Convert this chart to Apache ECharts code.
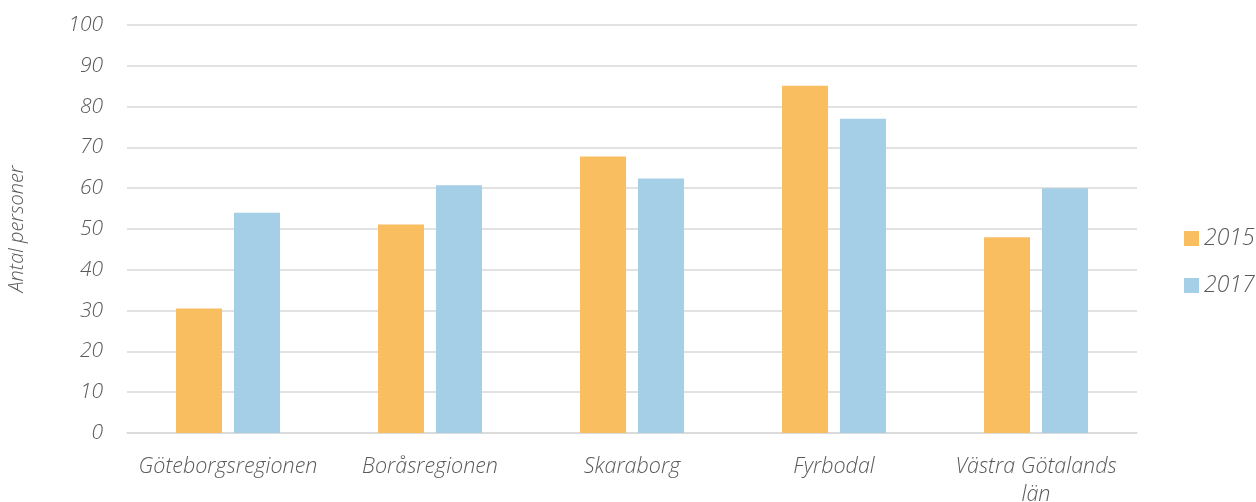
<!DOCTYPE html>
<html>
<head>
<meta charset="utf-8">
<script src="https://cdn.jsdelivr.net/npm/echarts@6/dist/echarts.min.js"></script>
<style>
  html, body { margin: 0; padding: 0; background: #fff; }
  #chart { width: 1256px; height: 502px; }
</style>
</head>
<body>
<div id="chart"></div>
<script>
// Regions along the x axis
const regions = ['Göteborgsregionen', 'Boråsregionen', 'Skaraborg', 'Fyrbodal', 'Västra Götalands\nlän'];
// Number of persons per region
const values2015 = [30.5, 51.1, 67.8, 85.1, 48.0];
const values2017 = [54.0, 60.7, 62.4, 77.0, 60.0];
const yTicks = [0, 10, 20, 30, 40, 50, 60, 70, 80, 90, 100];

const FONT = 'Open Sans';
const TEXT = '#595959';
const LABEL = { fontFamily: FONT, fontStyle: 'italic', fontWeight: 300, color: TEXT };

const chart = echarts.init(document.getElementById('chart'), null, { renderer: 'canvas' });
chart.setOption({
  animation: false,
  backgroundColor: '#ffffff',
  grid: { left: 127, right: 119, top: 25, bottom: 69, containLabel: false, outerBoundsMode: 'none' },
  legend: {
    orient: 'vertical',
    left: 1179,
    top: 222,
    itemWidth: 15,
    itemHeight: 15,
    itemGap: 24,
    icon: 'rect',
    textStyle: Object.assign({ fontSize: 23, padding: [0, 0, 0, 0] }, LABEL)
  },
  xAxis: {
    type: 'category',
    data: regions,
    axisLine: { lineStyle: { color: '#d9d9d9', width: 1.5 } },
    axisTick: { show: false },
    axisLabel: Object.assign({ fontSize: 21.5, margin: 20, lineHeight: 28, interval: 0 }, LABEL)
  },
  yAxis: {
    type: 'value',
    min: yTicks[0],
    max: yTicks[yTicks.length - 1],
    interval: 10,
    name: 'Antal personer',
    nameLocation: 'middle',
    nameGap: 100,
    nameTextStyle: Object.assign({ fontSize: 20 }, LABEL),
    axisLine: { show: false },
    axisTick: { show: false },
    splitLine: { lineStyle: { color: '#d9d9d9', width: 1.5 } },
    axisLabel: Object.assign({ fontSize: 21, margin: 24 }, LABEL)
  },
  series: [
    {
      name: '2015', type: 'bar', data: values2015,
      barWidth: 46, barGap: '26%',
      itemStyle: { color: '#F9BE5F' }
    },
    {
      name: '2017', type: 'bar', data: values2017,
      barWidth: 46,
      itemStyle: { color: '#A5CFE6' }
    }
  ]
});
</script>
</body>
</html>
